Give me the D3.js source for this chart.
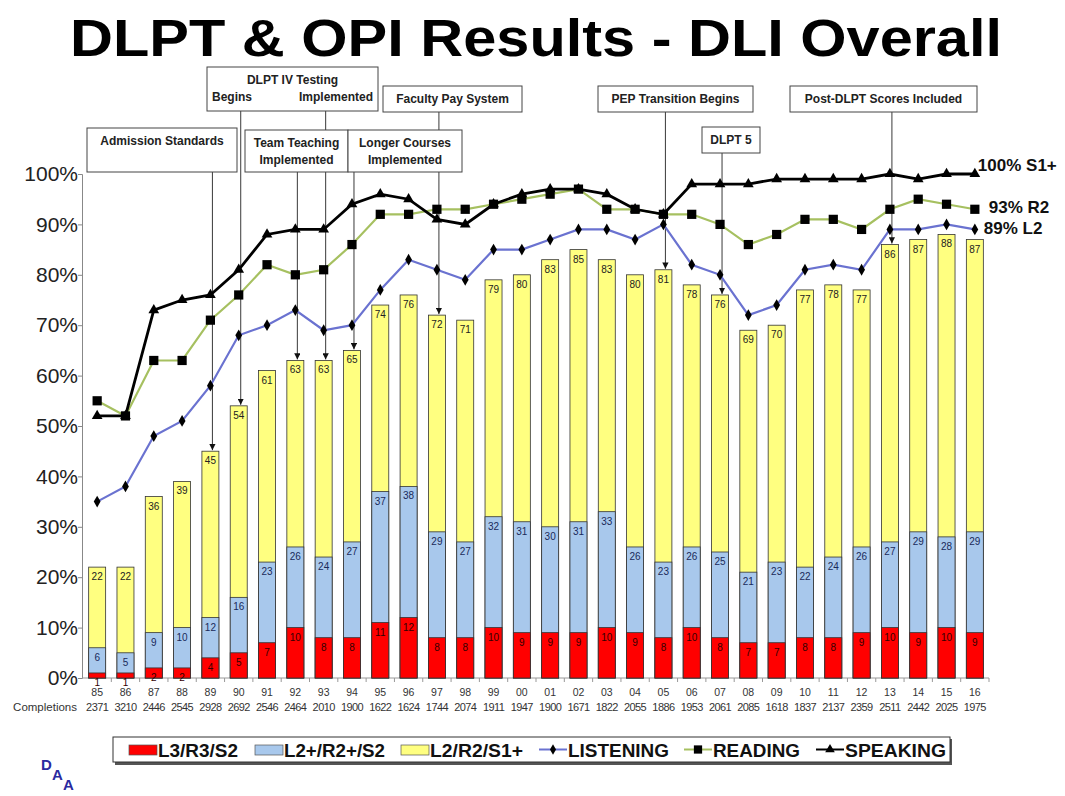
<!DOCTYPE html>
<html>
<head>
<meta charset="utf-8">
<script src="https://cdn.jsdelivr.net/npm/d3@7"></script>
<style>
  body { margin: 0; background: #fff; }
  svg { display: block; font-family: "Liberation Sans", Arial, sans-serif; }
</style>
</head>
<body>
<svg id="chart" width="1065" height="796"></svg>
<script>
// Fiscal years and number of completions
const years = ['85','86','87','88','89','90','91','92','93','94','95','96','97','98','99','00',
               '01','02','03','04','05','06','07','08','09','10','11','12','13','14','15','16'];
const completions = [2371,3210,2446,2545,2928,2692,2546,2464,2010,1900,1622,1624,1744,2074,1911,1947,
                     1900,1671,1822,2055,1886,1953,2061,2085,1618,1837,2137,2359,2511,2442,2025,1975];

// Cumulative percentages shown on the stacked bars
const l3 = [1,1,2,2,4,5,7,10,8,8,11,12,8,8,10,9,9,9,10,9,8,10,8,7,7,8,8,9,10,9,10,9];
const l2plus = [6,5,9,10,12,16,23,26,24,27,37,38,29,27,32,31,30,31,33,26,23,26,25,21,23,22,24,26,27,29,28,29];
const l2 = [22,22,36,39,45,54,61,63,63,65,74,76,72,71,79,80,83,85,83,80,81,78,76,69,70,77,78,77,86,87,88,87];

// Line series
const listening = [35,38,48,51,58,68,70,73,69,70,77,83,81,79,85,85,87,89,89,87,90,82,80,72,74,81,82,81,89,89,90,89];
const reading = [55,52,63,63,71,76,82,80,81,86,92,92,93,93,94,95,96,97,93,93,92,92,90,86,88,91,91,89,93,95,94,93];
const speaking = [52,52,73,75,76,81,88,89,89,94,96,95,91,90,94,96,97,97,96,93,92,98,98,98,99,99,99,99,100,99,100,100];

const yTicks = [0,10,20,30,40,50,60,70,80,90,100];

// Event annotations: label lines and the years they point to
const annotations = [
  { lines: ['Admission Standards'], targets: ['89'] },
  { lines: ['DLPT IV Testing', 'Begins|Implemented'], targets: ['90', '93'] },
  { lines: ['Team Teaching', 'Implemented'], targets: ['92'] },
  { lines: ['Longer Courses', 'Implemented'], targets: ['94'] },
  { lines: ['Faculty Pay System'], targets: ['97'] },
  { lines: ['PEP Transition Begins'], targets: ['05'] },
  { lines: ['DLPT 5'], targets: ['07'] },
  { lines: ['Post-DLPT Scores Included'], targets: ['13'] }
];

// box placement for each annotation (x0, y0, x1, y1)
const boxLayout = [
  [87, 128, 237, 172],
  [207, 67, 378, 111],
  [245, 130, 348, 172],
  [348, 130, 462, 172],
  [383, 86, 522, 112],
  [598, 86, 753, 112],
  [702, 127, 760, 153],
  [790, 86, 977, 112]
];

const svg = d3.select('#chart');

const x = d3.scaleBand()
  .domain(years)
  .range([83, 989])
  .paddingInner(0.4)
  .paddingOuter(0.2);

const y = d3.scaleLinear()
  .domain([0, 100])
  .range([678, 174]);

const cx = d => x(d) + x.bandwidth() / 2;

// Title
svg.append('text')
  .attr('x', 536)
  .attr('y', 56)
  .attr('text-anchor', 'middle')
  .attr('font-size', 51)
  .attr('font-weight', 'bold')
  .attr('fill', '#000')
  .attr('textLength', 932)
  .attr('lengthAdjust', 'spacingAndGlyphs')
  .text('DLPT & OPI Results - DLI Overall');

// Y axis
const yAxis = svg.append('g')
  .attr('transform', 'translate(82,0)')
  .call(d3.axisLeft(y).tickValues(yTicks).tickSize(4).tickFormat(d => d + '%'));
yAxis.select('.domain').attr('stroke', '#888');
yAxis.selectAll('.tick line').attr('stroke', '#888');
yAxis.selectAll('.tick text')
  .attr('font-size', 21)
  .attr('fill', '#222')
  .attr('x', -4)
  .attr('font-family', '"Liberation Sans", Arial, sans-serif');

// X axis line with ticks between categories
svg.append('line')
  .attr('x1', 82).attr('x2', 989)
  .attr('y1', y(0)).attr('y2', y(0))
  .attr('stroke', '#999');
svg.append('g').selectAll('line')
  .data(years)
  .join('line')
  .attr('x1', d => x(d) + x.bandwidth() + x.step() * 0.2)
  .attr('x2', d => x(d) + x.bandwidth() + x.step() * 0.2)
  .attr('y1', y(0)).attr('y2', y(0) + 4)
  .attr('stroke', '#999');

// year and completion labels
svg.append('g').selectAll('text')
  .data(years)
  .join('text')
  .attr('x', d => cx(d))
  .attr('y', 696)
  .attr('text-anchor', 'middle')
  .attr('font-size', 10.5)
  .attr('fill', '#333')
  .text(d => d);

svg.append('g').selectAll('text')
  .data(completions)
  .join('text')
  .attr('x', (d, i) => cx(years[i]))
  .attr('y', 711)
  .attr('text-anchor', 'middle')
  .attr('font-size', 11)
  .attr('letter-spacing', -0.6)
  .attr('fill', '#333')
  .text(d => d);

svg.append('text')
  .attr('x', 77).attr('y', 711)
  .attr('text-anchor', 'end')
  .attr('font-size', 11.5)
  .attr('fill', '#333')
  .text('Completions');

// Stacked bars (cumulative values; draw tallest first)
const barSeries = [
  { name: 'L2/R2/S1+', values: l2, fill: '#ffff80', text: '#222' },
  { name: 'L2+/R2+/S2', values: l2plus, fill: '#a8c8ec', text: '#1a2a5a' },
  { name: 'L3/R3/S2', values: l3, fill: '#ff0000', text: '#300' }
];

const bars = svg.append('g');
barSeries.forEach(s => {
  bars.append('g').selectAll('rect')
    .data(s.values)
    .join('rect')
    .attr('x', (d, i) => x(years[i]))
    .attr('y', d => y(d))
    .attr('width', x.bandwidth())
    .attr('height', d => y(0) - y(d))
    .attr('fill', s.fill)
    .attr('stroke', '#333')
    .attr('stroke-width', 0.8);
});
barSeries.forEach(s => {
  bars.append('g').selectAll('text')
    .data(s.values)
    .join('text')
    .attr('x', (d, i) => cx(years[i]))
    .attr('y', d => y(d) + 13)
    .attr('text-anchor', 'middle')
    .attr('font-size', 10)
    .attr('fill', s.text)
    .text(d => d);
});

// Annotation arrows and boxes
const ann = svg.append('g');
ann.append('defs').append('marker')
  .attr('id', 'arrow')
  .attr('viewBox', '0 0 10 10')
  .attr('refX', 10).attr('refY', 5)
  .attr('markerWidth', 7).attr('markerHeight', 7)
  .attr('orient', 'auto')
  .append('path')
  .attr('d', 'M0,0L10,5L0,10Z')
  .attr('fill', '#111');

annotations.forEach((a, i) => {
  const [x0, y0, x1, y1] = boxLayout[i];
  a.targets.forEach(t => {
    const yi = years.indexOf(t);
    ann.append('line')
      .attr('x1', cx(t) + 2).attr('x2', cx(t) + 2)
      .attr('y1', y1).attr('y2', y(l2[yi]) - 1)
      .attr('stroke', '#222')
      .attr('stroke-width', 0.9)
      .attr('marker-end', 'url(#arrow)');
  });
});

annotations.forEach((a, i) => {
  const [x0, y0, x1, y1] = boxLayout[i];
  ann.append('rect')
    .attr('x', x0).attr('y', y0)
    .attr('width', x1 - x0).attr('height', y1 - y0)
    .attr('fill', '#fff')
    .attr('stroke', '#444')
    .attr('stroke-width', 1);
  a.lines.forEach((ln, j) => {
    const ty = y0 + 17 + j * 17;
    if (ln.includes('|')) {
      const [l, r] = ln.split('|');
      ann.append('text').attr('x', x0 + 5).attr('y', ty)
        .attr('font-size', 12).attr('font-weight', 'bold').attr('fill', '#222').text(l);
      ann.append('text').attr('x', x1 - 5).attr('y', ty).attr('text-anchor', 'end')
        .attr('font-size', 12).attr('font-weight', 'bold').attr('fill', '#222').text(r);
    } else {
      ann.append('text').attr('x', (x0 + x1) / 2).attr('y', ty).attr('text-anchor', 'middle')
        .attr('font-size', 12).attr('font-weight', 'bold').attr('fill', '#222').text(ln);
    }
  });
});

// Lines
const lineGen = d3.line().x((d, i) => cx(years[i])).y(d => y(d));

const lineSeries = [
  { name: 'LISTENING', values: listening, color: '#6a72d0', marker: d3.symbolDiamond, size: 40, end: '89% L2' },
  { name: 'READING', values: reading, color: '#a6c060', marker: d3.symbolSquare, size: 85, end: '93% R2' },
  { name: 'SPEAKING', values: speaking, color: '#000', marker: d3.symbolTriangle, size: 50, end: '100% S1+' }
];

const lines = svg.append('g');
lineSeries.forEach(s => {
  lines.append('path')
    .datum(s.values)
    .attr('d', lineGen)
    .attr('fill', 'none')
    .attr('stroke', s.color)
    .attr('stroke-width', s.name === 'SPEAKING' ? 2.8 : 2.2);
  lines.append('g').selectAll('path')
    .data(s.values)
    .join('path')
    .attr('transform', (d, i) => `translate(${cx(years[i])},${y(d)})`)
    .attr('d', d3.symbol().type(s.marker).size(s.size))
    .attr('fill', '#000');
});

// End-of-line labels
const endOffsets = { 'SPEAKING': [3, -3], 'READING': [14, 4], 'LISTENING': [9, 5] };
lineSeries.forEach(s => {
  const last = years.length - 1;
  const [dx, dy] = endOffsets[s.name];
  svg.append('text')
    .attr('x', cx(years[last]) + dx)
    .attr('y', y(s.values[last]) + dy)
    .attr('font-size', 17)
    .attr('font-weight', 'bold')
    .attr('fill', '#111')
    .text(s.end);
});

// Legend
const lg = svg.append('g').attr('transform', 'translate(113,737)');
lg.append('rect').attr('x', 2).attr('y', 2).attr('width', 837).attr('height', 26).attr('fill', '#555');
lg.append('rect').attr('x', 0).attr('y', 0).attr('width', 837).attr('height', 25)
  .attr('fill', '#fff').attr('stroke', '#333');

// item offsets inside the legend box: [swatch x, text width]
const legendItems = [
  { label: barSeries[2].name, type: 'box', fill: barSeries[2].fill, x: 16, w: 80 },
  { label: barSeries[1].name, type: 'box', fill: barSeries[1].fill, x: 142, w: 101 },
  { label: barSeries[0].name, type: 'box', fill: barSeries[0].fill, x: 288, w: 93 },
  { label: lineSeries[0].name, type: 'line', s: lineSeries[0], x: 426, w: 101 },
  { label: lineSeries[1].name, type: 'line', s: lineSeries[1], x: 571, w: 87 },
  { label: lineSeries[2].name, type: 'line', s: lineSeries[2], x: 703, w: 101 }
];
legendItems.forEach(it => {
  const g = lg.append('g').attr('transform', `translate(${it.x},0)`);
  if (it.type === 'box') {
    g.append('rect').attr('x', 0).attr('y', 8).attr('width', 28).attr('height', 10)
      .attr('fill', it.fill).attr('stroke', '#555').attr('stroke-width', 0.7);
  } else {
    g.append('line').attr('x1', 0).attr('x2', 28).attr('y1', 12.5).attr('y2', 12.5)
      .attr('stroke', it.s.color).attr('stroke-width', 2);
    g.append('path').attr('transform', 'translate(14,12.5)')
      .attr('d', d3.symbol().type(it.s.marker).size(it.s.size * 0.8)).attr('fill', '#000');
  }
  g.append('text').attr('x', 29).attr('y', 19.5)
    .attr('font-size', 18).attr('font-weight', 'bold')
    .attr('textLength', it.w)
    .attr('lengthAdjust', 'spacingAndGlyphs')
    .attr('fill', '#111')
    .text(it.label);
});

// DAA logo letters
const logo = svg.append('g').attr('font-weight', 'bold').attr('fill', '#2a2aa0').attr('font-size', 15);
logo.append('text').attr('x', 41).attr('y', 770).text('D');
logo.append('text').attr('x', 52).attr('y', 780).text('A');
logo.append('text').attr('x', 63).attr('y', 790).text('A');
</script>
</body>
</html>
